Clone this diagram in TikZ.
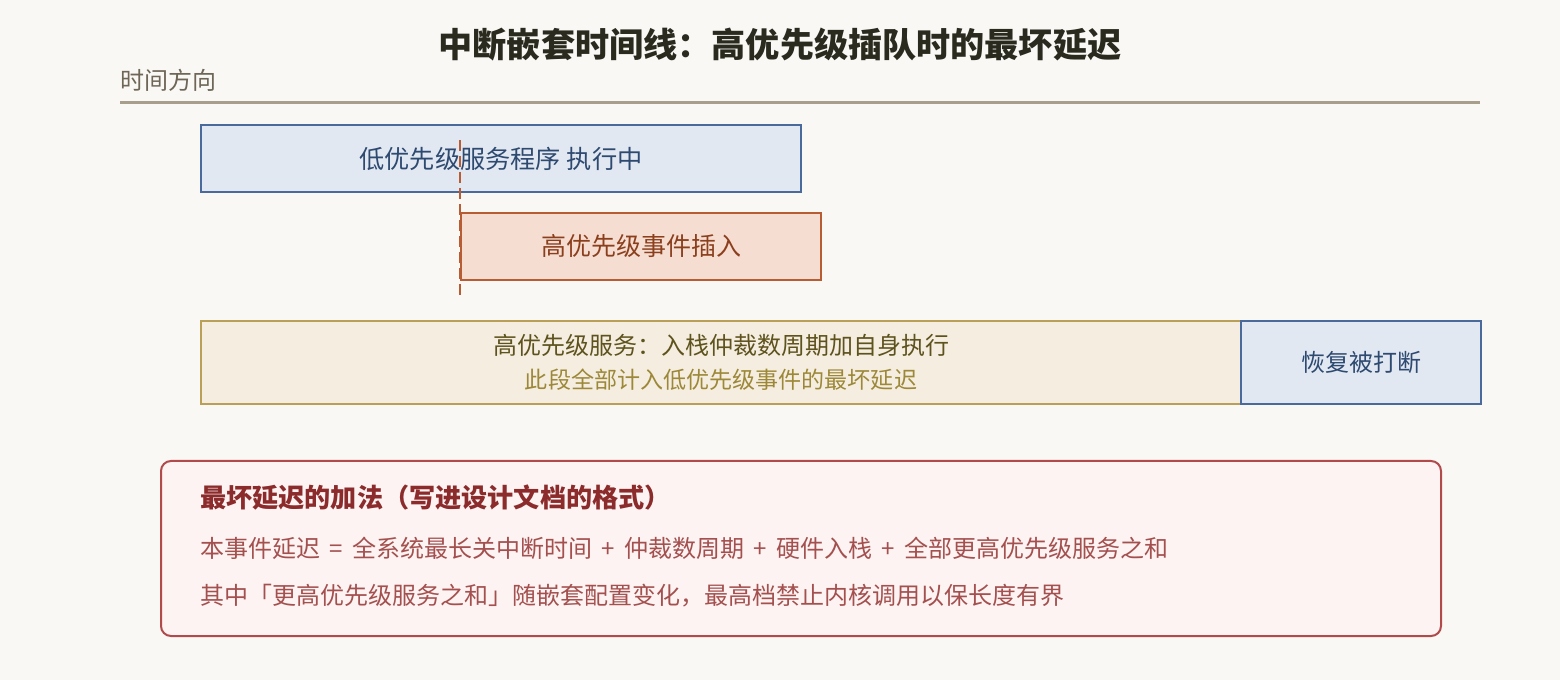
\documentclass[tikz,border=0pt]{standalone}
\usepackage{fontspec}
\setmainfont{Noto Sans CJK SC}
\definecolor{bgc}{HTML}{F9F8F4}
\definecolor{titlec}{HTML}{2B2A1F}
\definecolor{axisc}{HTML}{A79F8C}
\definecolor{axistext}{HTML}{6E6656}
\definecolor{blueb}{HTML}{4A6A9C}
\definecolor{bluef}{HTML}{E1E8F2}
\definecolor{bluet}{HTML}{2E4A70}
\definecolor{orab}{HTML}{B85C34}
\definecolor{oraf}{HTML}{F5DDD1}
\definecolor{orat}{HTML}{8B3F1D}
\definecolor{goldb}{HTML}{B9A056}
\definecolor{goldf}{HTML}{F5EEE0}
\definecolor{goldt}{HTML}{5E531E}
\definecolor{goldt2}{HTML}{9C8838}
\definecolor{redb}{HTML}{B24A4C}
\definecolor{redf}{HTML}{FCF3F2}
\definecolor{redh}{HTML}{8C2B2B}
\definecolor{redt}{HTML}{A3504F}
\newcommand{\gapw}{\hspace{0.39em}}
\tikzset{
  bar/.style={draw, line width=1.5pt, anchor=north west, inner sep=0pt, align=center, font=\fontsize{18pt}{24.75pt}\selectfont},
  bluebar/.style={bar, draw=blueb, fill=bluef, text=bluet},
  orabar/.style={bar, draw=orab, fill=oraf, text=orat},
  goldbar/.style={bar, draw=goldb, fill=goldf, text=goldt},
  notebox/.style={draw=redb, fill=redf, line width=1.5pt, rounded corners=7.5pt, anchor=north west, inner sep=0pt},
  notetext/.style={anchor=west, inner sep=0pt, text=redt, font=\fontsize{18pt}{20pt}\selectfont},
  marker/.style={draw=orab, line width=1.9pt, dash pattern=on 8.4pt off 3.6pt}
}
\begin{document}
\begin{tikzpicture}[x=0.75pt, y=-0.75pt]
\path[fill=bgc] (0,0) rectangle (1560,680);
\useasboundingbox (0,0) rectangle (1560,680);
% title
\node[text=titlec, font=\fontsize{25.6pt}{30pt}\selectfont\bfseries, inner sep=0pt] (title) at (780,45) {中断嵌套时间线：高优先级插队时的最坏延迟};
% axis
\node[anchor=west, text=axistext, font=\fontsize{18pt}{20pt}\selectfont, inner sep=0pt] (axlabel) at (120,80) {时间方向};
\coordinate (axl) at (120,103);
\coordinate (axr) at (1480,103);
\draw[axisc, line width=2.25pt] (axl) -- (axr);
% bars
\node[bluebar, minimum width=450pt, minimum height=50.25pt, font=\fontsize{18.9pt}{24pt}\selectfont] (low) at (200,124) {低优先级服务程序 执行中};
\node[orabar, minimum width=270pt, minimum height=50.25pt, font=\fontsize{18.75pt}{24pt}\selectfont] (high) at (460,212) {高优先级事件插入};
\node[goldbar, minimum width=780pt, minimum height=62.25pt] (serve) at (200,320) {高优先级服务：入栈仲裁数周期加自身执行\\[1pt]{\color{goldt2}\fontsize{17.3pt}{20pt}\selectfont 此段全部计入低优先级事件的最坏延迟}};
\node[bluebar, minimum width=180pt, minimum height=62.25pt] (resume) at (1240,320) {恢复被打断};
% marker line
\coordinate (dtop) at (460,140);
\coordinate (dbot) at (460,295);
\draw[marker] (dtop) -- (dbot);
% note box
\node[notebox, minimum width=960pt, minimum height=131.25pt] (note) at (160,460) {};
\node[notetext, text=redh, font=\fontsize{19.6pt}{22pt}\selectfont\bfseries] (nh) at (200,498) {最坏延迟的加法（写进设计文档的格式）};
\node[notetext] (n1) at (200,548) {本事件延迟{\gapw}={\gapw}全系统最长关中断时间{\gapw}+{\gapw}仲裁数周期{\gapw}+{\gapw}硬件入栈{\gapw}+{\gapw}全部更高优先级服务之和};
\node[notetext] (n2) at (200,596) {其中「更高优先级服务之和」随嵌套配置变化，最高档禁止内核调用以保长度有界};
\end{tikzpicture}
\end{document}
